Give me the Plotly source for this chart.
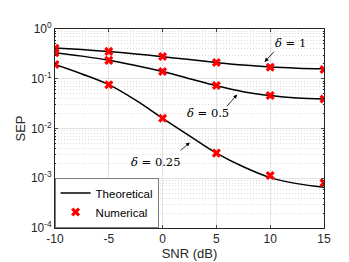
import plotly.graph_objects as go

# Data
snr_theory = [-10, -7.5, -5, -2.5, 0, 2.5, 5, 7.5, 10, 12.5, 15]
theo_d1 = [0.415, 0.385, 0.352, 0.315, 0.278, 0.243, 0.212, 0.188, 0.172, 0.163, 0.158]
theo_d05 = [0.335, 0.285, 0.236, 0.185, 0.14, 0.1, 0.072, 0.055, 0.046, 0.041, 0.039]
theo_d025 = [0.194, 0.125, 0.076, 0.037, 0.016, 0.0071, 0.0032, 0.0017, 0.00103, 0.00078, 0.00066]

snr_num = [-10, -5, 0, 5, 10, 15]
num_d1 = [0.41, 0.355, 0.28, 0.212, 0.17, 0.153]
num_d05 = [0.334, 0.234, 0.14, 0.073, 0.046, 0.039]
num_d025 = [0.194, 0.076, 0.016, 0.0032, 0.00114, 0.00081]

x_ticks = [-10, -5, 0, 5, 10, 15]
x_ticktext = ["-10", "-5", "0", "5", "10", "15"]
y_ticks = [1e-4, 1e-3, 1e-2, 1e-1, 1]
y_ticktext = ["10<sup>-4</sup>", "10<sup>-3</sup>", "10<sup>-2</sup>", "10<sup>-1</sup>", "10<sup>0</sup>"]
y_minor = [m * 10.0 ** e for e in range(-4, 0) for m in range(2, 10)]

AX = "#262626"
FONT = "Liberation Sans, Arial, Helvetica, sans-serif"

fig = go.Figure()
for i, yt in enumerate([theo_d1, theo_d05, theo_d025]):
    fig.add_trace(go.Scatter(x=snr_theory, y=yt, mode="lines",
                             line=dict(color="black", width=1.5, shape="spline", smoothing=1.0),
                             name="Theoretical", showlegend=(i == 0), legendrank=1))
for i, yn in enumerate([num_d1, num_d05, num_d025]):
    fig.add_trace(go.Scatter(x=snr_num, y=yn, mode="markers",
                             marker=dict(symbol="x", size=8, color="red", line=dict(width=0)),
                             name="Numerical", showlegend=(i == 0), legendrank=2))

serif = "DejaVu Serif, Liberation Serif, serif"
ann = [
    # (text, text_x, text_logy, head_x, head_logy, ax, ay)
    ("<i>δ</i> = 1", 11.86, -0.289, 9.48, -0.661, 10.7, -11.6),
    ("<i>δ</i> = 0.5", 4.22, -1.696, 6.93, -1.316, -11.6, 13.4),
    ("<i>δ</i> = 0.25", -0.61, -2.665, 2.53, -2.279, -10.7, 9.4),
]
for t, tx, ty, hx, hy, ax, ay in ann:
    fig.add_annotation(x=tx, y=ty, text=t, showarrow=False,
                       font=dict(family=serif, size=11.5, color="black"))
    fig.add_annotation(x=hx, y=hy, text="", showarrow=True, ax=ax, ay=ay,
                       arrowhead=2, arrowsize=1, arrowwidth=0.8, arrowcolor="black")

fig.update_layout(
    width=349, height=262,
    margin=dict(l=45, r=33, t=19, b=35),
    paper_bgcolor="white", plot_bgcolor="white",
    font=dict(family=FONT, size=12, color=AX),
    showlegend=True,
    legend=dict(x=0, y=0, xanchor="left", yanchor="bottom", bgcolor="white",
                bordercolor=AX, borderwidth=0.6, font=dict(size=11.5, color="black"),
                tracegroupgap=0, itemwidth=30, traceorder="normal"),
)
fig.update_xaxes(range=[-10, 15], tickvals=x_ticks, ticktext=x_ticktext,
                 ticks="inside", ticklen=3,
                 showline=True, linecolor=AX, linewidth=0.8, mirror="ticks",
                 showgrid=True, gridcolor="#e3e3e3", gridwidth=0.8, zeroline=False,
                 title=dict(text="SNR (dB)", standoff=3, font=dict(size=13)),
                 tickfont=dict(size=12))
fig.update_yaxes(type="log", range=[-4, 0],
                 tickvals=y_ticks, ticktext=y_ticktext,
                 ticks="inside", ticklen=3,
                 showline=True, linecolor=AX, linewidth=0.8, mirror="ticks",
                 showgrid=True, gridcolor="#e3e3e3", gridwidth=0.8, zeroline=False,
                 minor=dict(tickvals=y_minor, ticks="inside", ticklen=1.5, tickcolor=AX,
                            showgrid=True, griddash="1px,2px", gridcolor="#dadada", gridwidth=0.7),
                 title=dict(text="SEP", standoff=2, font=dict(size=13)),
                 tickfont=dict(size=12))

fig.write_html("out.html")
